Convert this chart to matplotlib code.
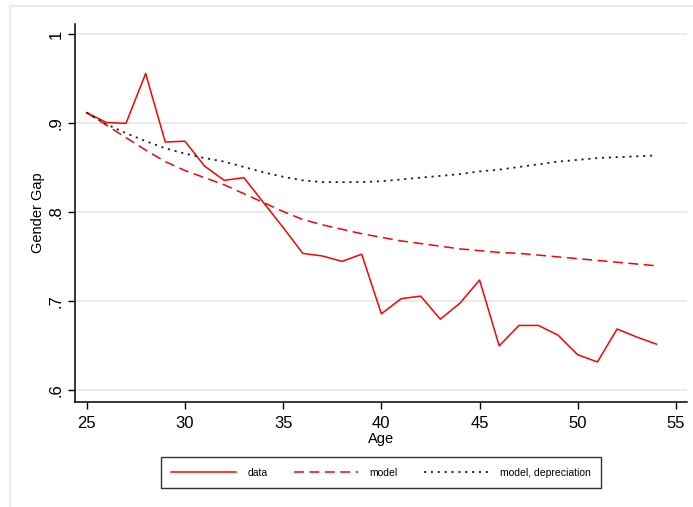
import matplotlib
matplotlib.use("Agg")
import matplotlib.pyplot as plt
from matplotlib.lines import Line2D

ages = list(range(25, 55))
data = [0.912, 0.901, 0.900, 0.956, 0.879, 0.880, 0.852, 0.836, 0.839, 0.811,
        0.783, 0.754, 0.751, 0.745, 0.753, 0.686, 0.703, 0.706, 0.680, 0.698,
        0.724, 0.650, 0.673, 0.673, 0.662, 0.640, 0.632, 0.669, 0.660, 0.652]
model = [0.912, 0.898, 0.884, 0.870, 0.857, 0.847, 0.839, 0.831, 0.821, 0.811,
         0.801, 0.792, 0.786, 0.781, 0.776, 0.772, 0.768, 0.765, 0.762, 0.759,
         0.757, 0.755, 0.754, 0.752, 0.750, 0.748, 0.746, 0.744, 0.742, 0.740]
depreciation = [0.912, 0.899, 0.889, 0.880, 0.872, 0.866, 0.861, 0.857, 0.851, 0.845,
                0.840, 0.836, 0.834, 0.834, 0.834, 0.835, 0.837, 0.839, 0.841, 0.843,
                0.846, 0.848, 0.851, 0.854, 0.857, 0.859, 0.861, 0.862, 0.863, 0.864]
xticks = [25, 30, 35, 40, 45, 50, 55]
yticks = [0.6, 0.7, 0.8, 0.9, 1.0]
ytick_labels = [".6", ".7", ".8", ".9", "1"]
series_labels = ["data", "model", "model, depreciation"]

plt.rcParams['font.family'] = ['Liberation Sans', 'DejaVu Sans']

W, H = 693, 507
fig = plt.figure(figsize=(W / 100, H / 100), dpi=100)
fig.patch.set_facecolor("white")

# light gray outer frame lines (graph region border, partially cropped)
fig.add_artist(Line2D([9.5 / W, 9.5 / W], [0, 1 - 5.5 / H], transform=fig.transFigure,
                      color="#ebebeb", lw=1.5))
fig.add_artist(Line2D([9.5 / W, 1], [1 - 5.5 / H, 1 - 5.5 / H], transform=fig.transFigure,
                      color="#ebebeb", lw=1.5))

left, right, top, bottom = 75, 687, 24, 402
ax = fig.add_axes([left / W, 1 - bottom / H, (right - left) / W, (bottom - top) / H])
ax.set_xlim(24.404, 55.56)
ax.set_ylim(0.587, 1.0116)

for s in ["top", "right"]:
    ax.spines[s].set_visible(False)
for s in ["left", "bottom"]:
    ax.spines[s].set_linewidth(1.1)
    ax.spines[s].set_color("black")

ax.set_yticks(yticks)
ax.set_yticklabels(ytick_labels, rotation=90, va="center")
ax.set_xticks(xticks)
ax.tick_params(axis="both", length=5, width=1, labelsize=12, color="black")
ax.tick_params(axis="y", pad=3)
ax.tick_params(axis="x", pad=5)
ax.grid(axis="y", color="#ebebeb", lw=1.5)
ax.set_axisbelow(True)

l1, = ax.plot(ages, data, color="#ff0000", lw=1.1, label=series_labels[0])
l2, = ax.plot(ages, model, color="#ff0000", lw=1.1, dashes=(6.5, 3.6), label=series_labels[1])
l3, = ax.plot(ages, depreciation, color="#222222", lw=1.3, dashes=(1.2, 2.6), label=series_labels[2])

ax.set_xlabel("Age", fontsize=10.5, labelpad=1)
ax.set_ylabel("Gender Gap", fontsize=10.5, labelpad=3)

leg = fig.legend(handles=[l1, l2, l3], loc="center",
                 bbox_to_anchor=((160 + 602) / 2 / W, 1 - 472.5 / H),
                 ncol=3, fontsize=7.5, frameon=True, fancybox=False,
                 edgecolor="black", handlelength=6.2, handletextpad=1.1,
                 columnspacing=2.5, borderpad=1.0, borderaxespad=0)
leg.get_frame().set_linewidth(1.0)

fig.savefig("out.png", dpi=100, facecolor="white")
